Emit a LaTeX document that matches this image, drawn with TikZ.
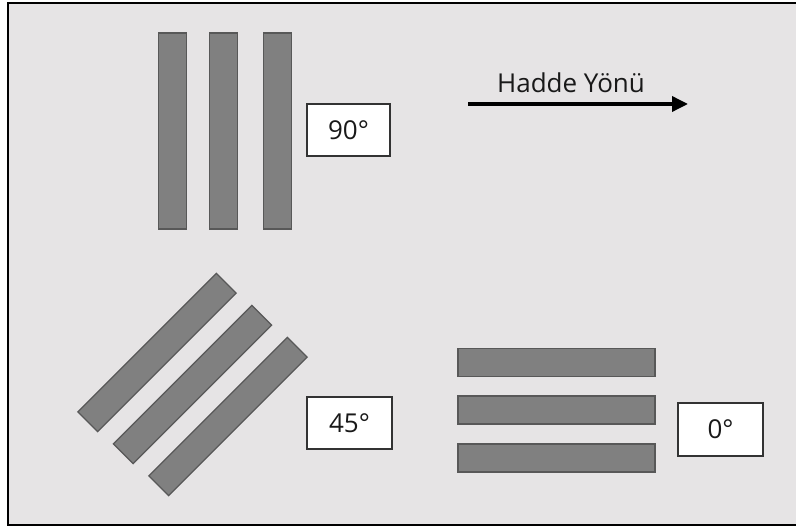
\documentclass[tikz,border=0pt]{standalone}
\usepackage{fontspec}
\setmainfont{Open Sans}
\usepackage{tikz}
\usetikzlibrary{arrows.meta}
\definecolor{sheetbg}{RGB}{230,228,229}
\definecolor{stripfill}{RGB}{128,128,128}
\definecolor{stripedge}{RGB}{88,88,88}

\begin{document}
\begin{tikzpicture}[x=1pt, y=-1pt,
    every node/.style={font=\fontsize{26}{30}\selectfont, text=black!90},
    strip/.style={rectangle, draw=stripedge, fill=stripfill,
        line width=1.2pt, minimum width=196pt, minimum height=28pt,
        inner sep=0pt},
    anglebox/.style={rectangle, draw=black!80, fill=white,
        line width=1.2pt, minimum width=85pt, minimum height=52pt,
        inner sep=0pt},
    rolldir/.style={-{Triangle[length=16pt, width=15pt]},
        line width=3.5pt, black}
]
\useasboundingbox (0,0) rectangle (796,529);
\fill[white] (0,0) rectangle (796,529);
\draw[fill=sheetbg, line width=2.5pt] (8,3) rectangle (815,525);
% 90 derece
\node[strip, rotate=90] (v1) at (172.5,131) {};
\node[strip, rotate=90] (v2) at (223.5,131) {};
\node[strip, rotate=90] (v3) at (277.5,131) {};
\node[anglebox, minimum width=83pt] (a90) at (348.5,130) {90°};
% 45 derece
\node[strip, rotate=45] (d1) at (157,352.5) {};
\node[strip, rotate=45] (d2) at (192.5,384.5) {};
\node[strip, rotate=45] (d3) at (228,416.5) {};
\node[anglebox] (a45) at (349.5,423) {45°};
% 0 derece
\node[strip, minimum width=197pt] (h1) at (556.5,362.5) {};
\node[strip, minimum width=197pt] (h2) at (556.5,410) {};
\node[strip, minimum width=197pt] (h3) at (556.5,458) {};
\node[anglebox, minimum height=53pt] (a0) at (720.5,429.5) {0°};
% hadde yonu
\coordinate (rs) at (468,104);
\coordinate (re) at (688,104);
\draw[rolldir] (rs) -- (re);
\node (rl) at (571,83) {Hadde Yönü};
\end{tikzpicture}
\end{document}
